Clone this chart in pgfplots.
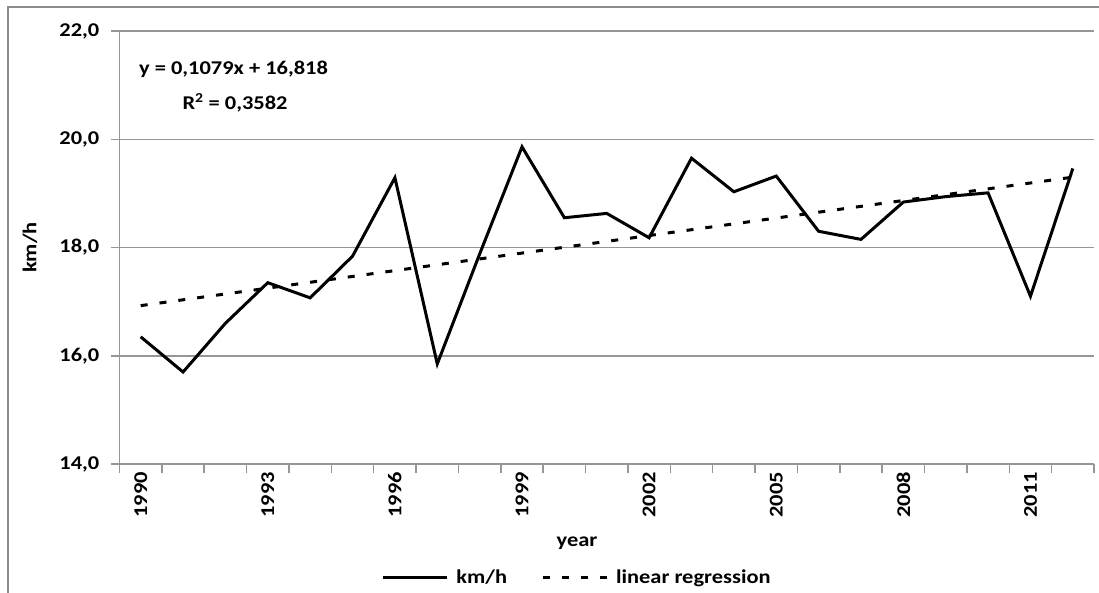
\documentclass[border=0pt]{standalone}
\usepackage{pgfplots}
\pgfplotsset{compat=1.18}
\usepackage{fontspec}
\setmainfont{Carlito}[FakeStretch=1.15]
\definecolor{gridgray}{RGB}{150,150,150}
\definecolor{framegray}{RGB}{140,140,140}
\newcommand{\cf}{\fontsize{19.5}{22}\selectfont\bfseries}
\begin{document}
\begin{tikzpicture}
\useasboundingbox (0pt,0pt) rectangle (1099pt,-592pt);
\draw[framegray, line width=2pt] (8pt,-7pt) rectangle (1110pt,-610pt);
\begin{axis}[
  at={(119.5pt,-464pt)}, anchor=south west,
  width=974.5pt, height=433pt, scale only axis,
  xmin=0.5, xmax=23.5, ymin=14, ymax=22,
  ytick={14,16,18,20,22},
  ymajorgrids, grid style={gridgray, line width=1.5pt},
  axis line style={gridgray, line width=1.5pt},
  axis x line*=bottom, axis y line*=left,
  tick style={gridgray, line width=1.5pt},
  tick align=outside, major tick length=8pt,
  xtick={1,4,7,10,13,16,19,22},
  xticklabels={1990,1993,1996,1999,2002,2005,2008,2011},
  minor xtick={0.5,1.5,...,23.5},
  minor tick length=8.5pt,
  x tick style={/pgfplots/major tick length=0pt},
  /pgf/number format/assume math mode=true,
  yticklabel={\pgfmathprintnumber[fixed,fixed zerofill,precision=1,use comma]{\tick}},
  yticklabel style={font=\cf, anchor=east, inner sep=0pt, xshift=-12pt},
  xticklabel style={font=\cf, rotate=90, anchor=east, inner sep=0pt, yshift=0pt},
  xlabel={year}, ylabel={km/h},
  xlabel style={font=\cf, at={(axis description cs:0.4695,-0.1824)}, anchor=center},
  ylabel style={font=\cf, at={(axis description cs:-0.0918,0.5)}, anchor=center},
  legend columns=2,
  legend style={draw=none, font=\cf, at={(axis description cs:0.4695,-0.261)}, anchor=center,
    /tikz/every odd column/.append style={column sep=6pt},
    /tikz/every even column/.append style={column sep=32pt}},
  legend image code/.code={\draw[#1] (0pt,0pt) -- (64pt,0pt);},
  clip=false,
]
\addplot[black, line width=3pt, line join=miter] coordinates {
(1,16.35) (2,15.70) (3,16.60) (4,17.35) (5,17.07) (6,17.84) (7,19.29) (8,15.85)
(9,17.88) (10,19.86) (11,18.55) (12,18.63) (13,18.18) (14,19.65) (15,19.03)
(16,19.32) (17,18.30) (18,18.15) (19,18.84) (20,18.94) (21,19.01) (22,17.10) (23,19.46)
};
\addlegendentry{km/h}
\addplot[black, line width=3pt, dash pattern=on 7pt off 12pt] coordinates {
(1,16.926) (23,19.300)
};
\addlegendentry{linear regression}
\end{axis}
\node[font=\cf, align=center, anchor=center] at (233.5pt,-69pt) {y = 0,1079x + 16,818};
\node[font=\cf, anchor=center] at (235pt,-103pt) {R\textsuperscript{2} = 0,3582};
\end{tikzpicture}
\end{document}
